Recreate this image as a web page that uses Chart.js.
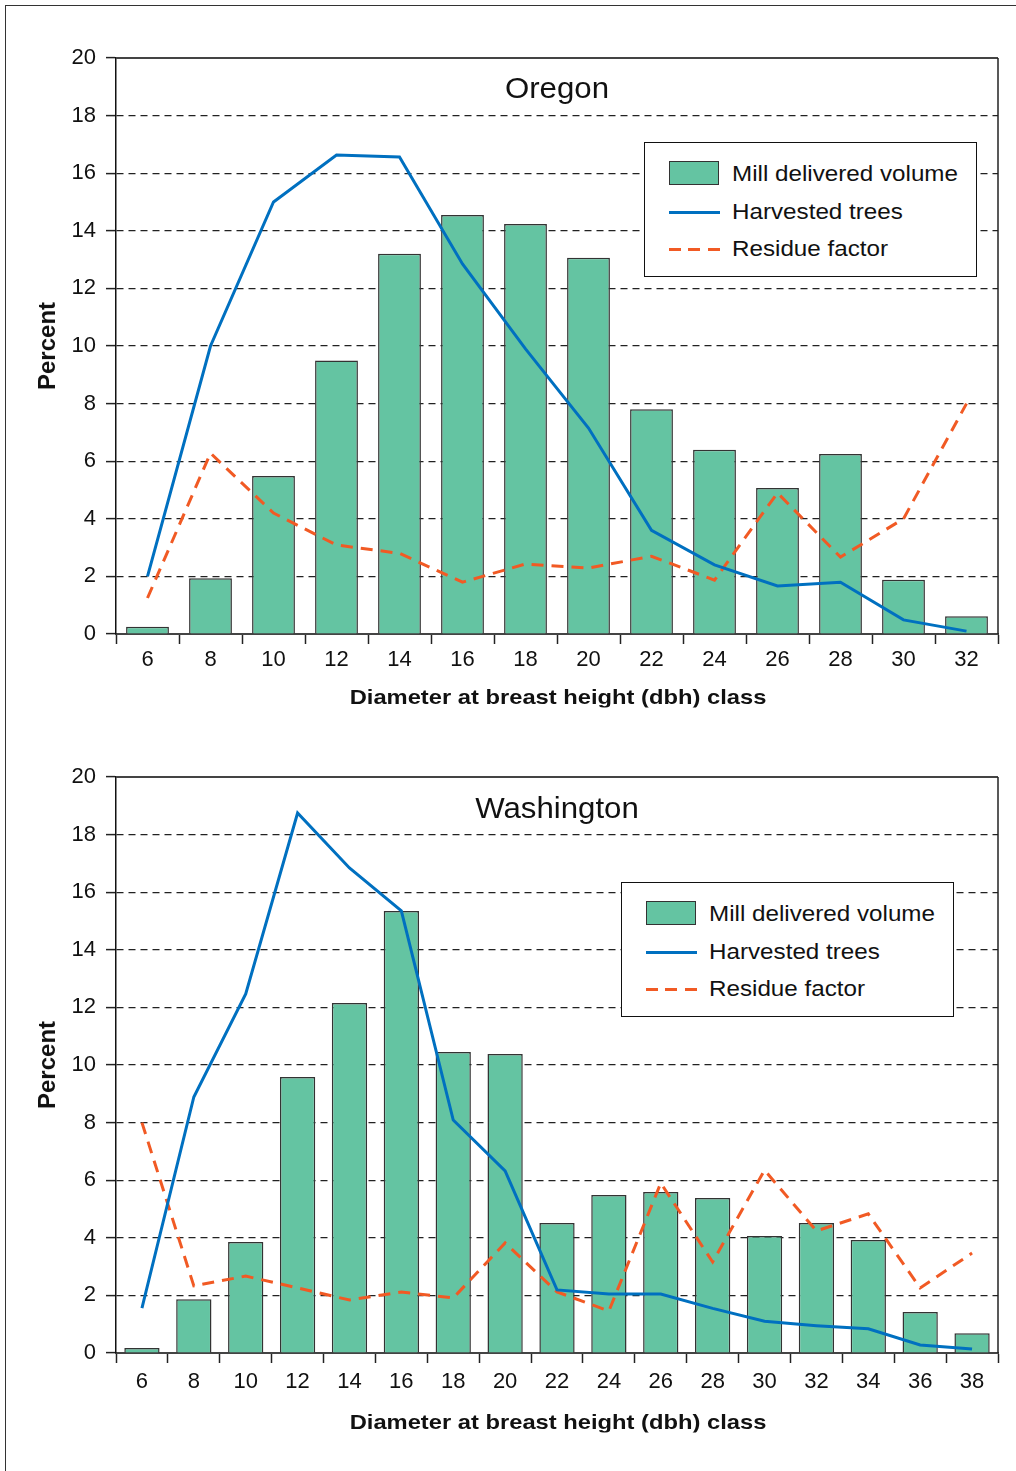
<!DOCTYPE html>
<html><head><meta charset="utf-8">
<script src="https://cdn.jsdelivr.net/npm/chart.js@4.4.1/dist/chart.umd.min.js"></script>
<style>
html,body{margin:0;padding:0;background:#fff;}
body{width:1016px;height:1471px;position:relative;overflow:hidden;font-family:"Liberation Sans",Arial,sans-serif;color:#111;}
.frame{position:absolute;left:5px;top:5px;width:1020px;height:1480px;border-top:1.5px solid #333;border-left:1.5px solid #333;}
.cv{position:absolute;left:0;}
.txt{position:absolute;white-space:nowrap;line-height:1;}
.title{font-size:30px;transform:translate(-50%,-50%) scaleX(1.04);}
.xt{font-size:21px;font-weight:bold;transform:translate(-50%,-50%) scaleX(1.13);}
.yt{font-size:24px;font-weight:bold;transform:translate(-50%,-50%) rotate(-90deg);}
.legend{position:absolute;width:333px;height:135px;border:1px solid #111;background:#fff;box-sizing:border-box;}
.legend .sw{position:absolute;left:24px;top:18px;width:50px;height:24px;background:#64C4A2;border:1.5px solid #333;box-sizing:border-box;}
.legend .bl{position:absolute;left:24px;top:68px;width:51px;height:2.5px;background:#0070C0;}
.legend .or{position:absolute;left:24px;top:105px;width:51px;height:2.5px;background:repeating-linear-gradient(90deg,#F15A24 0 12px,transparent 12px 19.5px);}
.legend .lt{position:absolute;left:87px;font-size:22px;transform:translateY(-50%) scaleX(1.1);transform-origin:0 50%;white-space:nowrap;line-height:1;}
</style>
</head><body>
<div class="frame"></div>

<canvas id="c1" class="cv" style="top:0" width="1016" height="720"></canvas>
<canvas id="c2" class="cv" style="top:720px" width="1016" height="751"></canvas>

<div class="txt title" style="left:557px;top:88px">Oregon</div>
<div class="txt xt" style="left:558px;top:696px">Diameter at breast height (dbh) class</div>
<div class="txt yt" style="left:47px;top:346px">Percent</div>
<div class="legend" style="left:644px;top:142px">
  <div class="sw"></div><div class="lt" style="top:31px">Mill delivered volume</div>
  <div class="bl"></div><div class="lt" style="top:69px">Harvested trees</div>
  <div class="or"></div><div class="lt" style="top:106px">Residue factor</div>
</div>

<div class="txt title" style="left:557px;top:808px">Washington</div>
<div class="txt xt" style="left:558px;top:1421px">Diameter at breast height (dbh) class</div>
<div class="txt yt" style="left:47px;top:1065px">Percent</div>
<div class="legend" style="left:621px;top:882px">
  <div class="sw"></div><div class="lt" style="top:31px">Mill delivered volume</div>
  <div class="bl"></div><div class="lt" style="top:69px">Harvested trees</div>
  <div class="or"></div><div class="lt" style="top:106px">Residue factor</div>
</div>

<script>
// ---- Data (percent) ----
const oregonClasses = ['6','8','10','12','14','16','18','20','22','24','26','28','30','32'];
const oregonMill      = [0.25, 1.94, 5.49, 9.5, 13.2, 14.55, 14.24, 13.06, 7.8, 6.4, 5.07, 6.25, 1.88, 0.62];
const oregonHarvested = [2.0, 10.0, 15.0, 16.63, 16.56, 12.85, 9.9, 7.15, 3.6, 2.4, 1.67, 1.8, 0.49, 0.1];
const oregonResidue   = [1.25, 6.28, 4.2, 3.09, 2.8, 1.8, 2.43, 2.29, 2.7, 1.87, 4.9, 2.67, 4.0, 8.0];

const washClasses = ['6','8','10','12','14','16','18','20','22','24','26','28','30','32','34','36','38'];
const washMill      = [0.17, 1.87, 3.85, 9.58, 12.15, 15.35, 10.45, 10.38, 4.51, 5.49, 5.59, 5.38, 4.06, 4.51, 3.92, 1.42, 0.69];
const washHarvested = [1.56, 8.89, 12.47, 18.75, 16.84, 15.35, 8.09, 6.32, 2.19, 2.05, 2.05, 1.55, 1.1, 0.95, 0.84, 0.28, 0.14];
const washResidue   = [8.0, 2.33, 2.67, 2.26, 1.84, 2.12, 1.91, 3.82, 2.12, 1.46, 5.9, 3.16, 6.35, 4.24, 4.83, 2.26, 3.47];

const yMin = 0, yMax = 20, yStep = 2;
const seriesNames = ['Mill delivered volume', 'Harvested trees', 'Residue factor'];

const framePlugin = {
  id: 'frame',
  afterDatasetsDraw(chart) {
    const a = chart.chartArea, ctx = chart.ctx;
    ctx.save();
    ctx.strokeStyle = '#444';
    ctx.lineWidth = 2;
    ctx.beginPath();
    ctx.moveTo(a.left, a.top);
    ctx.lineTo(a.right, a.top);
    ctx.stroke();
    ctx.lineWidth = 1.5;
    ctx.strokeStyle = '#222';
    ctx.beginPath();
    ctx.moveTo(a.right, a.top);
    ctx.lineTo(a.right, a.bottom);
    ctx.stroke();
    ctx.restore();
  }
};

function makeChart(id, labels, mill, harv, resid, padTop, xHeight, xPad) {
  const font = {family: "'Liberation Sans', Arial, sans-serif", size: 22};
  return new Chart(document.getElementById(id), {
    type: 'bar',
    data: {
      labels: labels,
      datasets: [
        {type: 'line', label: seriesNames[1], data: harv, borderColor: '#0070C0', borderWidth: 3,
         pointRadius: 0, tension: 0, fill: false, order: 1},
        {type: 'line', label: seriesNames[2], data: resid, borderColor: '#F15A24', borderWidth: 3,
         borderDash: [12, 8], pointRadius: 0, tension: 0, fill: false, order: 2},
        {type: 'bar', label: seriesNames[0], data: mill, backgroundColor: '#64C4A2',
         borderColor: '#333', borderWidth: 1.5, categoryPercentage: 1, barPercentage: 0.68, order: 3}
      ]
    },
    options: {
      responsive: false, animation: false, devicePixelRatio: 1,
      layout: {padding: {left: 0, right: 18, top: padTop, bottom: 0}},
      plugins: {legend: {display: false}, tooltip: {enabled: false}, title: {display: false}},
      scales: {
        x: {
          grid: {display: true, drawOnChartArea: false, drawTicks: true, tickLength: 10,
                 tickColor: '#222', tickWidth: 1.5, offset: true},
          border: {display: true, color: '#444', width: 2},
          ticks: {font: font, color: '#111', padding: xPad, autoSkip: false, maxRotation: 0},
          afterFit: s => { s.height = xHeight; }
        },
        y: {
          min: yMin, max: yMax,
          grid: {
            drawOnChartArea: true, drawTicks: true, tickLength: 10, tickBorderDash: [],
            tickColor: '#222', tickWidth: 1.5, lineWidth: 1.2,
            color: c => (c.tick && (c.tick.value === yMin || c.tick.value === yMax)) ? 'rgba(0,0,0,0)' : '#222'
          },
          border: {display: true, color: '#111', width: 1.5, dash: [7, 5]},
          ticks: {stepSize: yStep, font: font, color: '#111', padding: 10},
          afterFit: s => { s.width = 116; }
        }
      }
    },
    plugins: [framePlugin]
  });
}

makeChart('c1', oregonClasses, oregonMill, oregonHarvested, oregonResidue, 58, 86, 3);
makeChart('c2', washClasses, washMill, washHarvested, washResidue, 57, 118, 6);
</script>
</body></html>
